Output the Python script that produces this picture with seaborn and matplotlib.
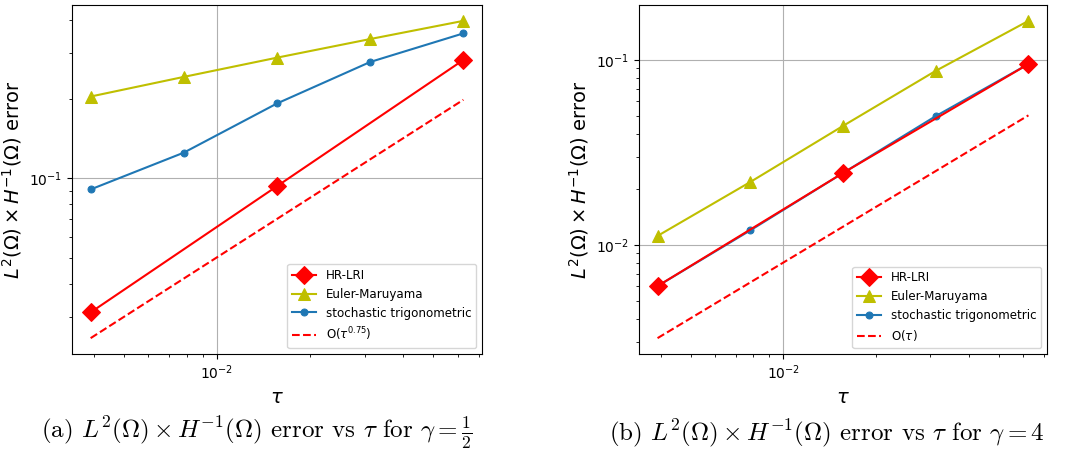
import matplotlib
matplotlib.use("Agg")
import matplotlib.pyplot as plt
import seaborn as sns

# step sizes tau = 2^-8 ... 2^-4
tau = [0.00390625, 0.0078125, 0.015625, 0.03125, 0.0625]
tau_hr = [0.00390625, 0.015625, 0.0625]

# gamma = 1/2
hr_a = [0.0311, 0.0935, 0.2812]
em_a = [0.2044, 0.2426, 0.2869, 0.3375, 0.3955]
st_a = [0.0909, 0.1253, 0.1924, 0.2763, 0.3546]
ref_a = [0.02484, 0.04178, 0.07026, 0.1182, 0.1987]

# gamma = 4
hr_b = [0.0060, 0.0245, 0.0950]
em_b = [0.0112, 0.0219, 0.0440, 0.0873, 0.1626]
st_b = [0.0060, 0.0120, 0.0245, 0.0497, 0.0950]
ref_b = [0.00314, 0.00628, 0.01256, 0.0251, 0.0502]

ref_labels = [r"O($\tau^{0.75}$)", r"O($\tau$)"]
captions = [r"(a) $L^2(\Omega)\times H^{-1}(\Omega)$ error vs $\tau$ for $\gamma=\frac{1}{2}$",
            r"(b) $L^2(\Omega)\times H^{-1}(\Omega)$ error vs $\tau$ for $\gamma=4$"]

fig = plt.figure(figsize=(10.65, 4.5), dpi=100)
ax1 = fig.add_axes([72 / 1065, 1 - 354 / 450, 410 / 1065, 349 / 450])
ax2 = fig.add_axes([639 / 1065, 1 - 354 / 450, 408 / 1065, 349 / 450])

panels = [(ax1, hr_a, em_a, st_a, ref_a, ref_labels[0]),
          (ax2, hr_b, em_b, st_b, ref_b, ref_labels[1])]

for ax, hr, em, st, ref, rl in panels:
    sns.lineplot(x=tau_hr, y=hr, ax=ax, color="r", marker="D", markersize=9,
                 markeredgecolor="r", label="HR-LRI", zorder=4)
    sns.lineplot(x=tau, y=em, ax=ax, color="y", marker="^", markersize=8,
                 markeredgecolor="y", label="Euler-Maruyama", zorder=3)
    sns.lineplot(x=tau, y=st, ax=ax, color="tab:blue", marker="o", markersize=5,
                 markeredgecolor="tab:blue", label="stochastic trigonometric", zorder=2)
    sns.lineplot(x=tau, y=ref, ax=ax, color="r", linestyle="--", label=rl, zorder=2)
    ax.set_xscale("log")
    ax.set_yscale("log")
    ax.grid(True, which="major")
    ax.set_xlabel(r"$\tau$", fontsize=14)
    ax.set_ylabel(r"$L^2(\Omega)\times H^{-1}(\Omega)$ error", fontsize=14)
    ax.legend(loc="lower right", fontsize=8.6)

fig.text(257 / 1065, 1 - 433 / 450, captions[0], ha="center", va="center",
         fontsize=18, family="cmr10", math_fontfamily="cm")
fig.text(827 / 1065, 1 - 433 / 450, captions[1], ha="center", va="center",
         fontsize=18, family="cmr10", math_fontfamily="cm")

fig.savefig("out.png", dpi=100)
